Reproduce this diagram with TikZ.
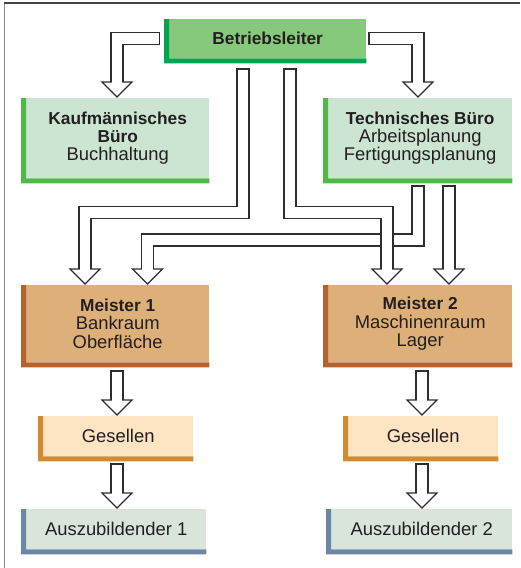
\documentclass[tikz,border=0pt]{standalone}
\usepackage{fontspec}
\setmainfont{Liberation Sans}
\usetikzlibrary{calc}
\definecolor{txt}{HTML}{231F20}
\definecolor{blfill}{HTML}{87C97C}
\definecolor{blbar}{HTML}{00A551}
\definecolor{bufill}{HTML}{CCE5D3}
\definecolor{bubar}{HTML}{50B848}
\definecolor{mfill}{HTML}{DDB079}
\definecolor{mbar}{HTML}{B4622E}
\definecolor{gfill}{HTML}{FDE4C3}
\definecolor{gbar}{HTML}{D38B2D}
\definecolor{afill}{HTML}{D9E5DA}
\definecolor{abar}{HTML}{6C86A6}
\definecolor{arr}{HTML}{2E2E2E}
\definecolor{frametop}{HTML}{444444}
\definecolor{frameleft}{HTML}{888888}
\newcommand\bx[1]{{\fontsize{17.3}{18.3}\selectfont\bfseries #1}}
\tikzset{
  cbox/.style={inner sep=0pt, align=center, anchor=north west, text=txt},
  shaftout/.style={line width=13.2pt, draw=arr, line join=miter, line cap=butt},
  shaftin/.style={line width=10.8pt, draw=white, line join=miter, line cap=butt, shorten <=1.2pt},
  headst/.style={fill=white, draw=arr, line width=1.2pt, line join=miter}
}
\newcommand\boxbars[2]{%
  \fill[#2] ([xshift=-5pt]#1.north west) -- ([xshift=-5pt,yshift=-5pt]#1.south west)
    -- ([yshift=-5pt]#1.south east) -- (#1.south east) -- (#1.south west) -- (#1.north west) -- cycle;}
\newcommand\blockarrow[2]{%
  \draw[shaftout] #1;
  \draw[headst] ($#2+(-15,0)$) -- ($#2+(0,15)$) -- ($#2+(15,0)$) -- cycle;
  \draw[shaftin] #1 -- ($#2+(0,2)$);}
\begin{document}
\begin{tikzpicture}[x=1pt,y=-1pt, font=\fontsize{18.4}{18.3}\selectfont]
\useasboundingbox (0,0) rectangle (520,568);
\draw[frameleft, line width=1.4pt] (4.5,568) -- (4.5,3);
\draw[frametop, line width=1.2pt] (3.8,3) -- (520,3);

% boxes (content areas)
\node[cbox, fill=blfill, minimum width=197pt, minimum height=39pt] (bl) at (169,19) {\bx{Betriebsleiter}};
\boxbars{bl}{blbar}
\node[cbox, fill=bufill, minimum width=183pt, minimum height=80pt] (kb) at (26,98) {\bx{Kaufmännisches}\\\bx{Büro}\\Buchhaltung};
\boxbars{kb}{bubar}
\node[cbox, fill=bufill, minimum width=184pt, minimum height=80pt] (tb) at (328,98) {\bx{Technisches Büro}\\Arbeitsplanung\\Fertigungsplanung};
\boxbars{tb}{bubar}
\node[cbox, fill=mfill, minimum width=183pt, minimum height=77pt] (m1) at (26,285) {\bx{Meister 1}\\Bankraum\\Oberfläche};
\boxbars{m1}{mbar}
\node[cbox, fill=mfill, minimum width=184pt, minimum height=77pt] (m2) at (328,285) {\bx{Meister 2}\\Maschinenraum\\Lager};
\boxbars{m2}{mbar}
\node[cbox, fill=gfill, minimum width=150pt, minimum height=40pt] (g1) at (43,416) {Gesellen};
\boxbars{g1}{gbar}
\node[cbox, fill=gfill, minimum width=150pt, minimum height=40pt] (g2) at (348,416) {Gesellen};
\boxbars{g2}{gbar}
\node[cbox, fill=afill, minimum width=180pt, minimum height=40pt] (a1) at (26,509) {Auszubildender 1};
\boxbars{a1}{abar}
\node[cbox, fill=afill, minimum width=181pt, minimum height=40pt] (a2) at (331,509) {Auszubildender 2};
\boxbars{a2}{abar}

% arrow anchor coordinates
\coordinate (h1) at ($(kb.north west)+(91,-16)$);
\coordinate (h2) at ($(tb.north west)+(90,-16)$);
\coordinate (s3) at ($(bl.south west)+(74,10)$);
\coordinate (h3) at ($(m1.north west)+(59,-16)$);
\coordinate (s4) at ($(bl.south west)+(121,10)$);
\coordinate (h4) at ($(m2.north west)+(59,-16)$);
\coordinate (s5) at ($(tb.south west)+(90,7)$);
\coordinate (h5) at ($(m1.north west)+(121.5,-16)$);
\coordinate (s6) at ($(tb.south west)+(121,7)$);
\coordinate (h6) at ($(m2.north west)+(121,-16)$);
\coordinate (s7) at ($(m1.south west)+(91,8)$);
\coordinate (h7) at ($(g1.north west)+(74,-16)$);
\coordinate (s8) at ($(m2.south west)+(94,8)$);
\coordinate (h8) at ($(g2.north west)+(74,-16)$);
\coordinate (s9) at ($(g1.south west)+(74,7)$);
\coordinate (h9) at ($(a1.north west)+(91,-16)$);
\coordinate (s10) at ($(g2.south west)+(74,7)$);
\coordinate (h10) at ($(a2.north west)+(91,-16)$);

% block arrows
\blockarrow{([xshift=-9pt]bl.west) -| (h1)}{(h1)}
\blockarrow{([xshift=2pt]bl.east) -| (h2)}{(h2)}
\blockarrow{(s3) -- ++(0,144) -| (h3)}{(h3)}
\blockarrow{(s5) -- ++(0,54.5) -| (h5)}{(h5)}
\blockarrow{(s4) -- ++(0,144) -| (h4)}{(h4)}
\blockarrow{(s6) -- (h6)}{(h6)}
\blockarrow{(s7) -- (h7)}{(h7)}
\blockarrow{(s8) -- (h8)}{(h8)}
\blockarrow{(s9) -- (h9)}{(h9)}
\blockarrow{(s10) -- (h10)}{(h10)}
\end{tikzpicture}
\end{document}
